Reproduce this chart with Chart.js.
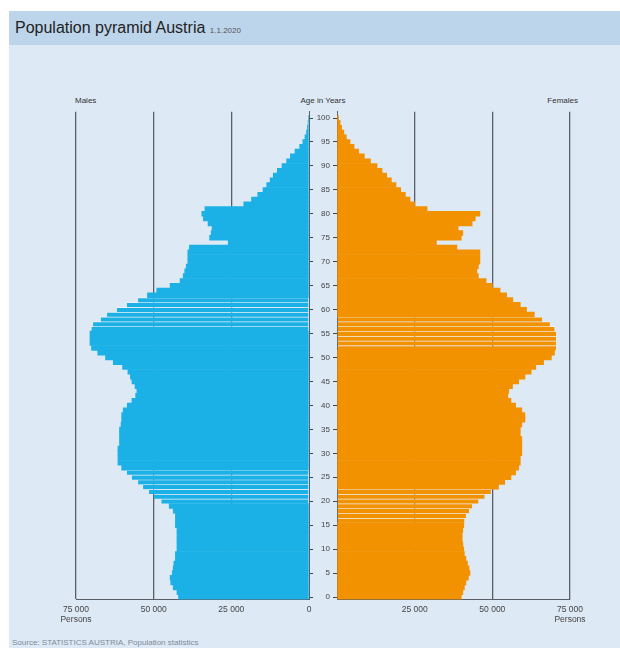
<!DOCTYPE html>
<html><head><meta charset="utf-8">
<script src="https://cdn.jsdelivr.net/npm/chart.js@4.4.1/dist/chart.umd.min.js"></script>
<style>
html,body{margin:0;padding:0;background:#fff;width:620px;height:648px;overflow:hidden;}
#page{position:absolute;left:9px;top:11px;width:611px;height:637px;background:#dde9f5;}
#band{position:absolute;left:0;top:0;width:611px;height:34px;background:#bdd5eb;}
#title{position:absolute;left:6px;top:8px;font:16px "Liberation Sans",Arial,sans-serif;color:#222;white-space:nowrap;}
#title small{font-size:8px;color:#555;}
.hdr{position:absolute;top:96px;font:8px "Liberation Sans",Arial,sans-serif;color:#333;white-space:nowrap;}
#src{position:absolute;left:12px;top:638px;font:8px "Liberation Sans",Arial,sans-serif;color:#7d8a99;white-space:nowrap;}
canvas{position:absolute;}
</style></head>
<body>
<div id="page"><div id="band"></div><div id="title">Population pyramid Austria <small>1.1.2020</small></div></div>
<div class="hdr" style="left:75px">Males</div>
<div class="hdr" style="left:283px;width:80px;text-align:center">Age in Years</div>
<div class="hdr" style="right:42px">Females</div>
<div id="src">Source: STATISTICS AUSTRIA, Population statistics</div>
<canvas id="m" width="295" height="570" style="left:20px;top:60px"></canvas>
<canvas id="f" width="291" height="570" style="left:309px;top:60px"></canvas>
<script>
const ages = [0,1,2,3,4,5,6,7,8,9,10,11,12,13,14,15,16,17,18,19,20,21,22,23,24,25,26,27,28,29,30,31,32,33,34,35,36,37,38,39,40,41,42,43,44,45,46,47,48,49,50,51,52,53,54,55,56,57,58,59,60,61,62,63,64,65,66,67,68,69,70,71,72,73,74,75,76,77,78,79,80,81,82,83,84,85,86,87,88,89,90,91,92,93,94,95,96,97,98,99,100];
const males = [42000,42500,43700,44500,44700,44000,43700,43500,43000,43000,
  42500,42500,42500,42500,42500,43000,43000,43000,43700,45000,
  47500,50000,51500,53400,55000,57000,58600,60300,61500,61500,
  61500,61500,61000,61000,61000,61000,60500,60300,60300,59800,
  58500,57000,55800,55400,56000,57000,57500,58300,60000,63000,
  65500,68000,70000,70500,70500,70500,70000,69500,67000,65000,
  61800,58600,55000,52000,49000,44700,41500,40500,40000,39500,
  39000,39000,39000,38500,26000,32000,31500,31200,32500,34000,
  34500,33500,21000,18500,16500,14800,13600,12500,11500,10200,
  8700,7200,6000,4500,3000,2000,1300,800,500,300,200];
const females = [40000,40500,41000,41500,42300,42800,42500,42000,41500,41000,
  40800,40500,40300,40300,40500,40800,41000,41500,42500,43500,
  45500,47500,49500,52000,54000,56000,57500,58500,59000,59000,
  59500,59500,59500,59500,59000,59000,59500,60500,60500,59500,
  57500,56000,55000,55300,56500,58500,60500,62500,64000,66500,
  69000,70000,70500,70500,70500,70500,70000,68500,66000,63500,
  61000,59000,56600,54600,52500,50000,48000,45500,45000,45500,
  46000,46000,46000,38600,32000,40000,40500,39000,43500,44500,
  46000,29000,25000,23500,22000,20500,19000,17500,16000,14500,
  12900,10800,8800,7000,5500,4200,3000,2200,1500,1000,500];
const ageTicks = [0,5,10,15,20,25,30,35,40,45,50,55,60,65,70,75,80,85,90,95,100];
const personTicks = [0,25000,50000,75000];
const maleGapAges = [20,21,22,23,24,25,26,56,57,58,59,60,61,62];
const femaleGapAges = [16,17,18,19,20,21,22,52,53,54,55,56,57,58];

const FAM = '"Liberation Sans", Arial, sans-serif';
const GRID = '#5b6068';
const fmt = v => v === 0 ? '0' : (v/1000) + ' 000';

function build(id, values, color, gapAges, isLeft) {
  const pts = ages.map((a, i) => ({x: values[i], y: a}));
  return new Chart(document.getElementById(id), {
    type: 'bar',
    data: {datasets: [{
      data: pts,
      backgroundColor: color,
      borderColor: 'rgba(255,255,255,0.45)',
      borderWidth: c => (c.raw && gapAges.includes(c.raw.y)) ? {top: 1, bottom: 0, left: 0, right: 0} : 0,
      borderSkipped: false,
      barPercentage: 1, categoryPercentage: 1
    }]},
    options: {
      indexAxis: 'y', responsive: false, animation: false, devicePixelRatio: 1,
      layout: {padding: isLeft ? {left: 56, right: 0, top: 51.8, bottom: 0} : {left: 0, right: 30, top: 51.8, bottom: 0}},
      plugins: {legend: {display: false}, tooltip: {enabled: false}},
      scales: {
        x: {
          type: 'linear', reverse: isLeft, min: 0, max: 75000,
          afterBuildTicks: s => { s.ticks = personTicks.map(v => ({value: v})); },
          afterFit: s => { s.height = 30.6; },
          grid: {color: c => (c.tick && c.tick.value === 0) ? 'rgba(0,0,0,0)' : GRID, lineWidth: 1.3, drawTicks: false},
          border: {display: true, color: GRID, width: 1},
          ticks: {padding: 5, color: '#444', font: {size: 8.5, family: FAM}, lineHeight: 1.4,
            callback: v => v === 75000 ? ['75 000', 'Persons'] : (v === 0 && !isLeft ? '' : fmt(v))}
        },
        y: {
          type: 'linear', position: isLeft ? 'right' : 'left', min: -0.5, max: 101.3, offset: false,
          afterBuildTicks: s => { s.ticks = ageTicks.map(v => ({value: v})); },
          afterFit: s => { s.width = isLeft ? 6 : 28; },
          grid: {drawOnChartArea: false, tickLength: 4, color: '#444', lineWidth: 1, offset: false},
          border: {display: true, color: GRID, width: 1},
          ticks: {display: !isLeft, padding: 3, color: '#444', font: {size: 8, family: FAM},
            callback: v => String(v)}
        }
      }
    }
  });
}
build('m', males, '#1bb1e6', maleGapAges, true);
build('f', females, '#f39200', femaleGapAges, false);
</script>
</body></html>
